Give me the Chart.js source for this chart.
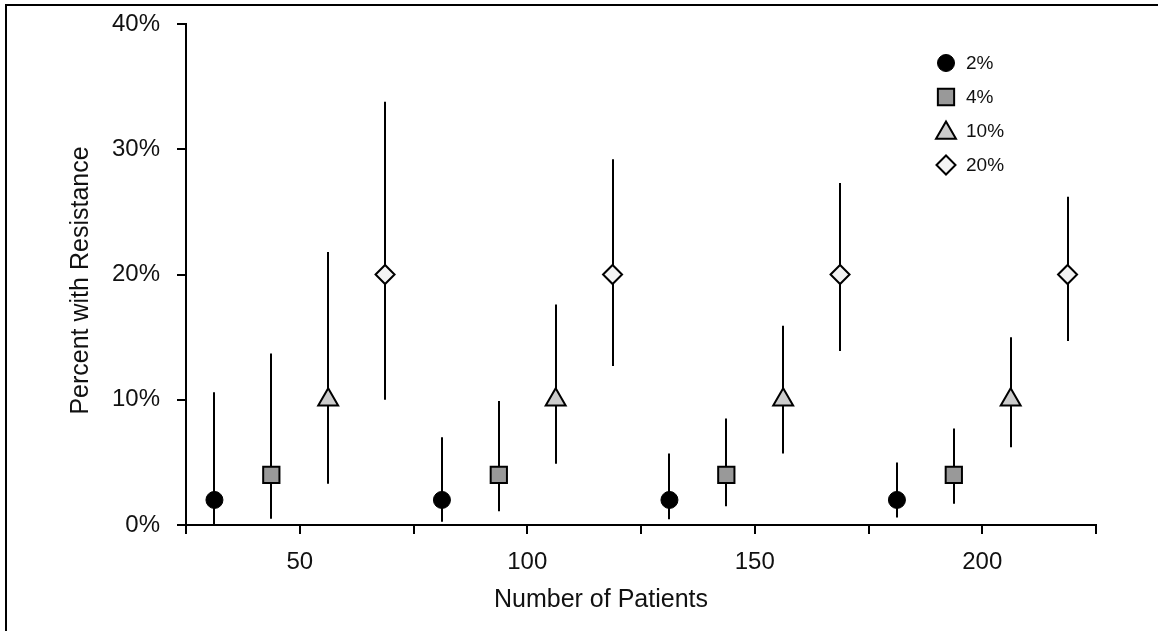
<!DOCTYPE html>
<html>
<head>
<meta charset="utf-8">
<script src="https://cdn.jsdelivr.net/npm/chart.js@4.4.1/dist/chart.umd.min.js"></script>
<style>
  html, body { margin: 0; padding: 0; background: #fff; }
  .frame { position: absolute; left: 5px; top: 4px; width: 1153px; height: 627px; border-top: 2px solid #000; border-left: 2px solid #000; box-sizing: border-box; }
  #chart { position: absolute; left: 0; top: 0; }
</style>
</head>
<body>
<div class="frame"></div>
<canvas id="chart" width="1158" height="631"></canvas>
<script>
const FONT = '"Liberation Sans", Arial, Helvetica, sans-serif';

// sample sizes (x groups) and tick labels
const patients = [50, 100, 150, 200];
const xTickLabels = [50, 100, 150, 200];
const yTickLabels = [0, 10, 20, 30, 40];

// true resistance level of each series
const seriesNames = ['2%', '4%', '10%', '20%'];

// point estimate + interval for each series, one value per sample size
const est2 = [2, 2, 2, 2];
const low2 = [0.0, 0.25, 0.45, 0.6];
const high2 = [10.6, 7.0, 5.7, 5.0];

const est4 = [4, 4, 4, 4];
const low4 = [0.5, 1.1, 1.5, 1.7];
const high4 = [13.7, 9.9, 8.5, 7.7];

const est10 = [10, 10, 10, 10];
const low10 = [3.3, 4.9, 5.7, 6.2];
const high10 = [21.8, 17.6, 15.9, 15.0];

const est20 = [20, 20, 20, 20];
const low20 = [10.0, 12.7, 13.9, 14.7];
const high20 = [33.8, 29.2, 27.3, 26.2];

// marker look + horizontal dodge so the four series sit side by side
const dodge = [-18.75, -6.25, 6.25, 18.75];
const looks = [
    { pointStyle: 'circle', radius: 8.5, fill: '#000000' },
    { pointStyle: 'rect', radius: 11.5, fill: '#999999' },
    { pointStyle: 'triangle', radius: 11.5, fill: '#cccccc' },
    { pointStyle: 'rectRot', radius: 9.5, fill: '#f4f4f4' },
];

const estimates = [est2, est4, est10, est20];
const lows = [low2, low4, low10, low20];
const highs = [high2, high4, high10, high20];

const datasets = seriesNames.map((name, i) => ({
    label: name,
    data: patients.map((n, j) => ({
        x: n + dodge[i],
        y: estimates[i][j],
        lo: lows[i][j],
        hi: highs[i][j]
    })),
    pointStyle: looks[i].pointStyle,
    pointRadius: looks[i].radius,
    pointHoverRadius: looks[i].radius,
    backgroundColor: looks[i].fill,
    borderColor: '#000',
    borderWidth: i === 0 ? 1 : 2,
    showLine: false,
    clip: false
}));

// vertical interval lines, drawn under the markers
const errorBars = {
    id: 'errorBars',
    beforeDatasetsDraw(chart) {
        const { ctx, scales: { x, y } } = chart;
        ctx.save();
        ctx.strokeStyle = '#000';
        ctx.lineWidth = 2;
        chart.data.datasets.forEach(ds => {
            ds.data.forEach(p => {
                const px = Math.round(x.getPixelForValue(p.x));
                ctx.beginPath();
                ctx.moveTo(px, y.getPixelForValue(p.lo));
                ctx.lineTo(px, y.getPixelForValue(p.hi));
                ctx.stroke();
            });
        });
        ctx.restore();
    }
};

// axis titles (x title sits a bit left of centre in the original)
const axisTitles = {
    id: 'axisTitles',
    afterDraw(chart) {
        const { ctx, chartArea: { left, right, top, bottom } } = chart;
        ctx.save();
        ctx.fillStyle = '#111';
        ctx.font = '25px ' + FONT;
        ctx.textAlign = 'center';
        ctx.textBaseline = 'alphabetic';
        ctx.fillText('Number of Patients', (left + right) / 2 - 40, bottom + 82);

        ctx.translate(88, (top + bottom) / 2 + 6);
        ctx.rotate(-Math.PI / 2);
        ctx.fillText('Percent with Resistance', 0, 0);
        ctx.restore();
    }
};

// legend inside the plot, top right
const legendBox = {
    id: 'legendBox',
    afterDraw(chart) {
        const { ctx, chartArea: { right, top } } = chart;
        const mx = right - 150;
        chart.data.datasets.forEach((ds, i) => {
            const yy = top + 39 + i * 34;
            ctx.save();
            ctx.fillStyle = ds.backgroundColor;
            ctx.strokeStyle = ds.borderColor;
            ctx.lineWidth = ds.borderWidth;
            Chart.helpers.drawPoint(ctx, {
                pointStyle: ds.pointStyle,
                radius: ds.pointRadius,
                borderWidth: ds.borderWidth,
                rotation: 0
            }, mx, i === 2 ? yy + 2 : yy);
            ctx.fillStyle = '#111';
            ctx.font = '19px ' + FONT;
            ctx.textAlign = 'left';
            ctx.textBaseline = 'middle';
            ctx.fillText(ds.label, mx + 20, yy + 1);
            ctx.restore();
        });
    }
};

const config = {
    type: 'scatter',
    data: { datasets: datasets },
    options: {
        responsive: false,
        animation: false,
        layout: { padding: { top: 24, right: 62, left: 0, bottom: 0 } },
        plugins: {
            legend: { display: false },
            tooltip: { enabled: false },
            title: { display: false }
        },
        scales: {
            x: {
                type: 'linear',
                min: 25,
                max: 225,
                afterFit: s => { s.height = 106; s.paddingLeft = 0; s.paddingRight = 0; },
                border: { display: true, color: '#000', width: 2 },
                grid: { display: true, drawOnChartArea: false, drawTicks: true, tickLength: 9, color: '#000', lineWidth: 2 },
                ticks: {
                    stepSize: 25,
                    padding: 14,
                    color: '#111',
                    font: { family: FONT, size: 24 },
                    maxRotation: 0,
                    autoSkip: false,
                    callback: v => xTickLabels.includes(v) ? String(v) : ''
                }
            },
            y: {
                type: 'linear',
                min: yTickLabels[0],
                max: yTickLabels[yTickLabels.length - 1],
                afterFit: s => { s.width = 186; s.paddingTop = 0; s.paddingBottom = 0; },
                border: { display: true, color: '#000', width: 2 },
                grid: { display: true, drawOnChartArea: false, drawTicks: true, tickLength: 9, color: '#000', lineWidth: 2 },
                ticks: {
                    stepSize: 10,
                    padding: 17,
                    color: '#111',
                    font: { family: FONT, size: 24 },
                    callback: v => yTickLabels.includes(v) ? v + '%' : ''
                }
            }
        }
    },
    plugins: [errorBars, axisTitles, legendBox]
};

const myChart = new Chart('chart', config);
</script>
</body>
</html>
